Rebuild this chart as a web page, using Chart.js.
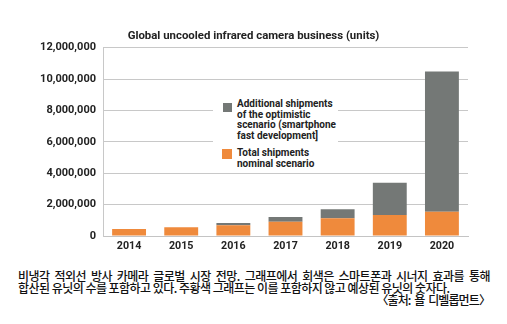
<!DOCTYPE html>
<html>
<head>
<meta charset="utf-8">
<script src="https://cdn.jsdelivr.net/npm/chart.js@4"></script>
<style>
  body { margin: 0; background: #fff; width: 507px; height: 324px; overflow: hidden; position: relative; }
  #wrap { position: absolute; left: 0; top: 0; width: 507px; height: 260px; }
  #legend { position: absolute; left: 213px; top: 97px; width: 125px; background: #fff;
            font: bold 10px Roboto, "DejaVu Sans", sans-serif; color: #222; line-height: 10.5px;
            padding: 2px 0 3px 0; white-space: nowrap; }
  .item { position: relative; padding-left: 24px; }
  .item + .item { margin-top: 7px; }
  .sw { position: absolute; }
  #caption { position: absolute; left: 18px; top: 270px; width: 472px;
             font: 500 12px "Noto Sans CJK KR", sans-serif; color: #111; line-height: 11.8px;
             letter-spacing: -0.53px; }
  #caption .j { text-align: justify; text-align-last: justify; }
  #caption .r { text-align: right; letter-spacing: -0.9px; word-spacing: 2px; }
</style>
</head>
<body>
<div id="wrap"><canvas id="myBarChart" width="507" height="260"></canvas></div>
<div id="legend">
  <div class="item"><span class="sw" style="left:10px;top:4px;width:9px;height:9px;background:#747876"></span>Additional shipments<br>of the optimistic<br>scenario (smartphone<br>fast development]</div>
  <div class="item"><span class="sw" style="left:9px;top:1px;width:10px;height:10px;background:#ef8a3c"></span>Total shipments<br>nominal scenario</div>
</div>
<div id="caption">
  <div class="j">비냉각 적외선 방사 카메라 글로벌 시장 전망. 그래프에서 회색은 스마트폰과 시너지 효과를 통해</div>
  <div>합산된 유닛의 수를 포함하고 있다. 주황색 그래프는 이를 포함하지 않고 예상된 유닛의 숫자다.</div>
  <div class="r">〈출처: 욜 디벨롭먼트〉</div>
</div>
<script>
const years = ['2014', '2015', '2016', '2017', '2018', '2019', '2020'];
const nominal = [450000, 560000, 680000, 910000, 1130000, 1340000, 1550000];
const additional = [0, 0, 150000, 300000, 570000, 2060000, 8940000];
const yTicks = [0, 2000000, 4000000, 6000000, 8000000, 10000000, 12000000];

async function renderBarChart() {
    await document.fonts.load('bold 12px Roboto');

    const ctx = document.getElementById('myBarChart').getContext('2d');

    const chart = new Chart(ctx, {
        type: 'bar',
        data: {
            labels: years,
            datasets: [{
                label: 'Total shipments nominal scenario',
                data: nominal,
                backgroundColor: '#ef8a3c',
                stack: 's'
            }, {
                label: 'Additional shipments of the optimistic scenario (smartphone fast development]',
                data: additional,
                backgroundColor: '#747876',
                stack: 's'
            }]
        },
        options: {
            responsive: false,
            animation: false,
            categoryPercentage: 1,
            barPercentage: 0.65,
            plugins: {
                legend: { display: false },
                tooltip: { enabled: false },
                title: {
                    display: true,
                    text: 'Global uncooled infrared camera business (units)',
                    color: '#222',
                    font: { family: 'Roboto', size: 11.4, weight: 'bold' },
                    padding: { top: 29, bottom: 5 }
                }
            },
            scales: {
                x: {
                    stacked: true,
                    grid: { display: false, drawTicks: false },
                    border: { color: '#c4c4c4' },
                    ticks: { color: '#222', font: { family: 'Roboto', size: 10.7, weight: 'bold' }, padding: 4 },
                    afterFit: (s) => { s.height = 24; }
                },
                y: {
                    stacked: true,
                    min: 0,
                    max: 12000000,
                    afterBuildTicks: (s) => { s.ticks = yTicks.map(v => ({ value: v })); },
                    grid: { color: '#c8c8c8', drawTicks: false },
                    border: { color: '#c8c8c8' },
                    ticks: {
                        color: '#222',
                        padding: 7,
                        font: { family: 'Roboto', size: 11, weight: 'bold' },
                        callback: (v) => v.toLocaleString('en-US')
                    },
                    afterFit: (s) => { s.width = 103; }
                },
                // empty right axis, keeps the plot clear of the right edge so the title stays centred
                yRight: {
                    position: 'right',
                    grid: { display: false, drawTicks: false },
                    border: { display: false },
                    ticks: { display: false },
                    afterFit: (s) => { s.width = 39; }
                }
            }
        }
    });
}

renderBarChart();
</script>
</body>
</html>
